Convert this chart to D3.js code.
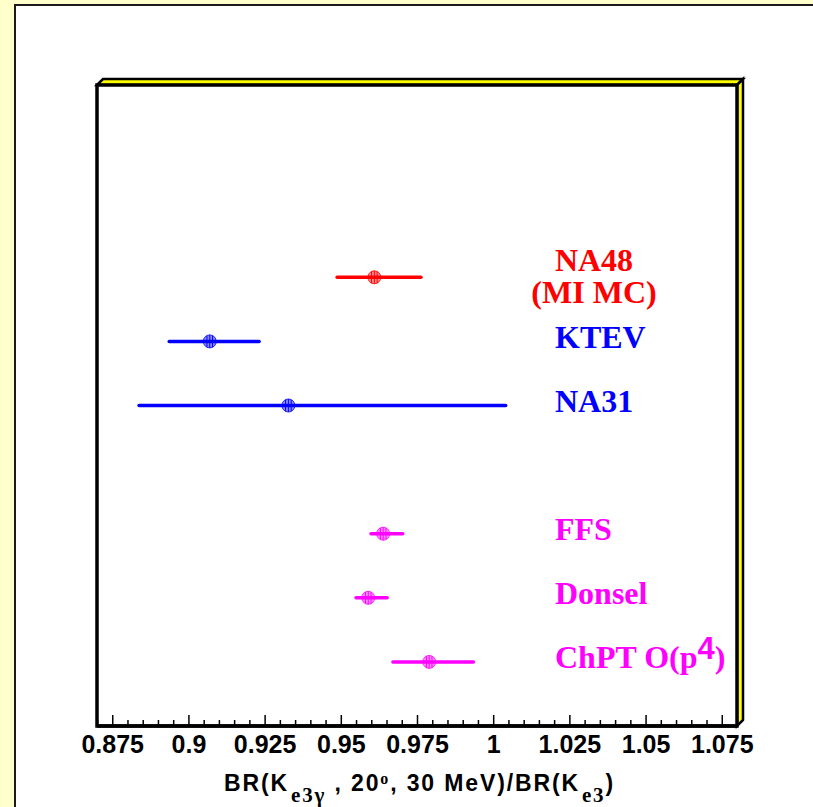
<!DOCTYPE html>
<html>
<head>
<meta charset="utf-8">
<script src="https://cdn.jsdelivr.net/npm/d3@7"></script>
<style>
  html, body { margin: 0; padding: 0; background: #ffffcc; }
  svg { display: block; }
</style>
</head>
<body>
<svg id="chart" width="813" height="807"></svg>
<script>
// Measurements and predictions of BR(Ke3γ)/BR(Ke3)
const names   = ["NA48", "KTEV", "NA31", "FFS", "Donsel", "ChPT O(p4)"];
const colors  = ["#ff0000", "#0000ff", "#0000ff", "#ff00ff", "#ff00ff", "#ff00ff"];
const rows    = [7, 6, 5, 3, 2, 1];
const central = [0.9610, 0.9070, 0.9328, 0.9639, 0.9590, 0.9790];
const lower   = [0.9488, 0.8937, 0.8838, 0.9599, 0.9550, 0.9671];
const upper   = [0.9763, 0.9232, 1.0041, 0.9703, 0.9652, 0.9935];

const majorTicks  = [0.875, 0.9, 0.925, 0.95, 0.975, 1.0, 1.025, 1.05, 1.075];
const majorLabels = ["0.875", "0.9", "0.925", "0.95", "0.975", "1", "1.025", "1.05", "1.075"];
const minorTicks  = d3.range(0, 43).map(i => +(0.870 + i * 0.005).toFixed(3));

const svg = d3.select("#chart");

// pad frame
svg.append("rect")
  .attr("x", 15).attr("y", 5).attr("width", 820).attr("height", 820)
  .attr("fill", "#ffffff").attr("stroke", "#1a1a1a").attr("stroke-width", 2);

const L = 97, R = 737, T = 85, B = 726, D = 6;

const x = d3.scaleLinear().domain([0.870, 1.080]).range([L, R]);
const y = d3.scaleLinear().domain([0, 10]).range([B, T]);

// bevelled frame edges (top and right)
const bevel = svg.append("g")
  .attr("fill", "#ffff00").attr("stroke", "#000").attr("stroke-width", 2.5)
  .attr("stroke-linejoin", "miter");
bevel.append("path")
  .attr("d", `M${L},${T} L${L + D},${T - D} L${R + D},${T - D} L${R},${T} Z`);
bevel.append("path")
  .attr("d", `M${R},${T} L${R + D},${T - D} L${R + D},${B - D} L${R},${B} Z`);

svg.append("rect")
  .attr("x", L).attr("y", T).attr("width", R - L).attr("height", B - T)
  .attr("fill", "#ffffff").attr("stroke", "#000").attr("stroke-width", 3.5);

// x axis: minor ticks
const minorAxis = d3.axisBottom(x)
  .tickValues(minorTicks.filter(v => !majorTicks.some(m => Math.abs(m - v) < 1e-9)))
  .tickSize(-6).tickFormat("");
const gMinor = svg.append("g").attr("transform", `translate(0,${B})`).call(minorAxis);
gMinor.select(".domain").remove();
gMinor.selectAll("line").attr("stroke", "#000").attr("stroke-width", 1.5);

// x axis: major ticks with labels
const majorAxis = d3.axisBottom(x)
  .tickValues(majorTicks).tickSize(-11).tickPadding(9)
  .tickFormat((d, i) => majorLabels[i]);
const gMajor = svg.append("g").attr("transform", `translate(0,${B})`).call(majorAxis);
gMajor.select(".domain").remove();
gMajor.selectAll("line").attr("stroke", "#000").attr("stroke-width", 1.5);
gMajor.selectAll("text")
  .attr("fill", "#000")
  .style("font-family", "'Liberation Sans', Arial, Helvetica, sans-serif")
  .style("font-weight", "bold").style("font-size", "25px");

// axis baseline redrawn on top
svg.append("line")
  .attr("x1", L).attr("x2", R).attr("y1", B).attr("y2", B)
  .attr("stroke", "#000").attr("stroke-width", 3.5);

// x axis title
const serif = "'Liberation Serif', 'Times New Roman', serif";
const title = svg.append("text")
  .attr("x", 224).attr("y", 791).attr("text-anchor", "start")
  .style("font-family", "'Liberation Sans', Arial, Helvetica, sans-serif")
  .style("font-weight", "bold").style("font-size", "23px").attr("fill", "#000");
title.append("tspan").text("BR(K");
title.append("tspan").attr("dy", 11).attr("dx", 2)
  .style("font-family", serif).style("font-size", "21px").text("e3γ");
title.append("tspan").attr("dy", -11).text(" , 20");
title.append("tspan").attr("dy", -7)
  .style("font-family", serif).style("font-size", "16px").text("o");
title.append("tspan").attr("dy", 7).text(", 30 MeV)/BR(K");
title.append("tspan").attr("dy", 11).attr("dx", 2)
  .style("font-family", serif).style("font-size", "21px").text("e3");
title.append("tspan").attr("dy", -11).text(")");

// spread the title to its full span under the axis
const titleWidth = 387;
const natural = title.node().getComputedTextLength();
const nChars = title.text().length;
title.style("letter-spacing", `${Math.max(0, (titleWidth - natural) / nChars)}px`);

// data points with horizontal error bars
const data = names.map((n, i) => ({
  name: n, color: colors[i], row: rows[i], v: central[i], lo: lower[i], hi: upper[i]
}));

const pts = svg.append("g").selectAll("g").data(data).join("g");
pts.append("line")
  .attr("x1", d => x(d.lo)).attr("x2", d => x(d.hi))
  .attr("y1", d => y(d.row)).attr("y2", d => y(d.row))
  .attr("stroke", d => d.color).attr("stroke-width", 3.5)
  .attr("stroke-linecap", "round");
pts.append("circle")
  .attr("cx", d => x(d.v)).attr("cy", d => y(d.row)).attr("r", 6.5)
  .attr("fill", d => d.color).attr("fill-opacity", 0.45)
  .attr("stroke", d => d.color).attr("stroke-opacity", 0.8).attr("stroke-width", 1);
pts.append("path")
  .attr("d", d => {
    const cx = x(d.v), cy = y(d.row);
    return `M${cx},${cy - 6.5}V${cy + 6.5}` +
           `M${cx - 2.8},${cy - 5.8}V${cy + 5.8}` +
           `M${cx + 2.8},${cy - 5.8}V${cy + 5.8}` +
           `M${cx - 6.5},${cy}H${cx + 6.5}`;
  })
  .attr("stroke", d => d.color).attr("stroke-width", 1).attr("fill", "none");

// series labels
const lab = svg.append("g")
  .style("font-family", serif).style("font-weight", "bold").style("font-size", "32px");

data.forEach(d => {
  const yy = y(d.row);
  if (d.name === "NA48") {
    const t = lab.append("text").attr("fill", d.color).attr("text-anchor", "middle");
    t.append("tspan").attr("x", 594).attr("y", yy - 6.3).text("NA48");
    t.append("tspan").attr("x", 594).attr("y", yy + 26).text("(MI MC)");
  } else if (d.name === "ChPT O(p4)") {
    const t = lab.append("text").attr("fill", d.color).attr("x", 555).attr("y", yy + 6);
    t.append("tspan").text("ChPT O(p");
    t.append("tspan").attr("dy", -9)
      .style("font-family", "'Liberation Sans', Arial, Helvetica, sans-serif")
      .style("font-size", "31px").text("4");
    t.append("tspan").attr("dy", 9).text(")");
  } else {
    lab.append("text").attr("fill", d.color).attr("x", 555).attr("y", yy + 6.3).text(d.name);
  }
});
</script>
</body>
</html>
